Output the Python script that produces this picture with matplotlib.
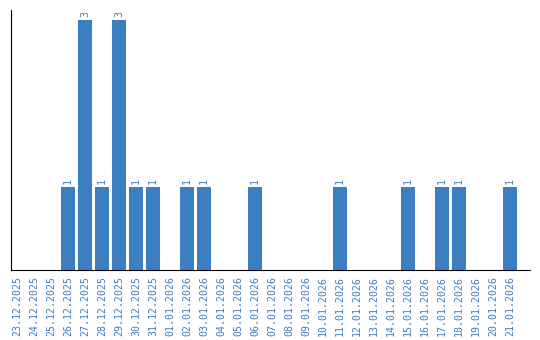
import matplotlib
matplotlib.use("Agg")
import matplotlib.pyplot as plt

dates = ["23.12.2025", "24.12.2025", "25.12.2025", "26.12.2025", "27.12.2025",
         "28.12.2025", "29.12.2025", "30.12.2025", "31.12.2025", "01.01.2026",
         "02.01.2026", "03.01.2026", "04.01.2026", "05.01.2026", "06.01.2026",
         "07.01.2026", "08.01.2026", "09.01.2026", "10.01.2026", "11.01.2026",
         "12.01.2026", "13.01.2026", "14.01.2026", "15.01.2026", "16.01.2026",
         "17.01.2026", "18.01.2026", "19.01.2026", "20.01.2026", "21.01.2026"]
counts = [0, 0, 0, 1, 3, 1, 3, 1, 1, 0,
          1, 1, 0, 0, 1, 0, 0, 0, 0, 1,
          0, 0, 0, 1, 0, 1, 1, 0, 0, 1]

blue = "#3b7ec2"
fig = plt.figure(figsize=(5.4, 3.4), dpi=100)
ax = fig.add_axes([0.0204, 0.206, 0.961, 0.765])

x = list(range(len(dates)))
ax.bar(x, counts, width=0.82, color=blue)
for xi, c in zip(x, counts):
    if c > 0:
        ax.text(xi, c + 0.03, str(c), rotation=90, ha="center", va="bottom",
                color=blue, fontsize=7.2, family="DejaVu Sans Mono")

ax.set_xlim(-0.35, 30.18)
ax.set_ylim(0, 3.12)
ax.set_xticks(x)
ax.set_xticklabels(dates, rotation=90, color=blue, fontsize=7.1,
                   family="DejaVu Sans Mono")
ax.tick_params(axis="x", length=0, pad=4)
ax.set_yticks([])
ax.spines["top"].set_visible(False)
ax.spines["right"].set_visible(False)

fig.savefig("out.png", dpi=100)
